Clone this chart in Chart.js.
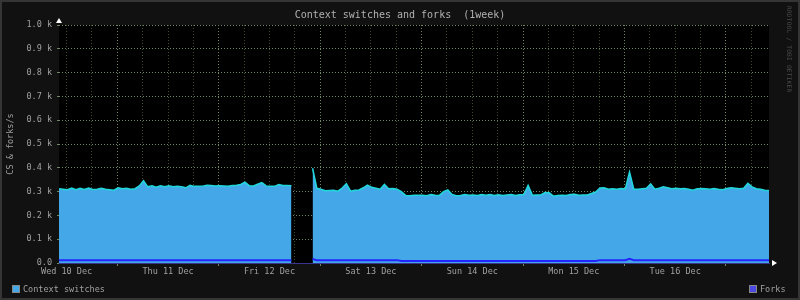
<!DOCTYPE html>
<html>
<head>
<meta charset="utf-8">
<script src="https://cdn.jsdelivr.net/npm/chart.js@4/dist/chart.umd.min.js"></script>
<style>
    html, body { margin: 0; padding: 0; background: #111; }
    #wrap { position: relative; width: 800px; height: 300px; background: #111; overflow: hidden; }
    #wrap canvas { position: absolute; left: 0; top: 0; }
    .txt { position: absolute; font-family: "DejaVu Sans Mono", monospace; white-space: pre; color: #a0a0a0; }
    #title { left: 0; top: 9px; width: 800px; text-align: center; font-size: 10px; color: #b0b0b0; }
    .leg { top: 283px; font-size: 8.5px; line-height: 12px; }
    .sw { display: inline-block; width: 6px; height: 6px; border: 1px solid #888; vertical-align: -1px; margin-right: 3px; }
    #credit { left: 786px; top: 6px; font-size: 6.2px; color: #4a4a4a; writing-mode: vertical-rl; letter-spacing: 0.2px; }
    #frame { position: absolute; left: 0; top: 0; width: 800px; height: 300px; box-sizing: border-box; border: 2px solid #353535; pointer-events: none; }
</style>
</head>
<body>
<div id="wrap">
    <canvas id="chart" width="800" height="300"></canvas>
    <div class="txt" id="title">Context switches and forks  (1week)</div>
    <div class="txt leg" style="left:12px"><span class="sw" style="background:#44a8e8"></span>Context switches</div>
    <div class="txt leg" style="left:749px"><span class="sw" style="background:#4a4ae0"></span>Forks</div>
    <div class="txt" id="credit">RRDTOOL / TOBI OETIKER</div>
    <div id="frame"></div>
</div>
<script>
// hours since the left edge of the graph (one sample per hour)
const hours = Array.from({ length: 169 }, (_, i) => i);

const contextSwitches = [
    312, 310, 308, 315, 308, 314, 309, 315, 309, 310,
    314, 310, 308, 306, 316, 312, 314, 310, 312, 324,
    346, 320, 324, 318, 324, 320, 324, 320, 322, 320,
    316, 326, 322, 322, 323, 327, 326, 324, 325, 324,
    323, 326, 327, 330, 340, 325, 324, 331, 338, 324,
    322, 322, 330, 326, 326, 325, null, null, null, null,
    398, 314, 310, 304, 305, 306, 302, 315, 333, 302,
    306, 307, 316, 327, 318, 314, 310, 330, 312, 313,
    310, 300, 284, 283, 285, 285, 285, 283, 288, 285,
    284, 300, 307, 288, 283, 284, 288, 285, 286, 284,
    288, 285, 288, 284, 287, 284, 286, 288, 284, 287,
    288, 326, 285, 286, 286, 296, 295, 281, 284, 285,
    284, 288, 289, 285, 286, 286, 292, 298, 315, 316,
    310, 312, 310, 313, 311, 382, 310, 310, 312, 314,
    332, 310, 314, 320, 316, 312, 314, 312, 313, 310,
    306, 312, 313, 312, 310, 313, 310, 308, 313, 316,
    314, 312, 314, 335, 320, 312, 310, 306, 305
];

const forksHours = [0, 55, 57, 60, 61, 80, 81, 127, 128, 134, 135, 136, 168];
const forks = [12, 12, null, 17, 12, 12, 8, 8, 12, 12, 18, 12, 12];

const dayLabels = ['Wed 10 Dec', 'Thu 11 Dec', 'Fri 12 Dec', 'Sat 13 Dec', 'Sun 14 Dec', 'Mon 15 Dec', 'Tue 16 Dec'];
const firstGridHour = 1.8;   // first 6-hour grid line, also the first day label
const gridHours = Array.from({ length: 28 }, (_, k) => firstGridHour + 6 * k);
const yTicks = [0, 100, 200, 300, 400, 500, 600, 700, 800, 900, 1000];

const textColor = '#a0a0a0';
const smallFont = { family: 'DejaVu Sans Mono', size: 8.5 };

const arrows = {
    id: 'arrows',
    beforeDraw(chart) {
        const { ctx, chartArea: a } = chart;
        ctx.save();
        ctx.fillStyle = '#000';
        ctx.fillRect(a.left, a.top, a.right - a.left, a.bottom - a.top);
        ctx.restore();
    },
    afterDraw(chart) {
        const { ctx, chartArea: a } = chart;
        ctx.save();
        ctx.fillStyle = '#ffffff';
        ctx.beginPath();
        ctx.moveTo(a.left, a.top - 7);
        ctx.lineTo(a.left - 3, a.top - 2);
        ctx.lineTo(a.left + 3, a.top - 2);
        ctx.closePath();
        ctx.fill();
        ctx.beginPath();
        ctx.moveTo(a.right + 8, a.bottom);
        ctx.lineTo(a.right + 3, a.bottom - 3);
        ctx.lineTo(a.right + 3, a.bottom + 3);
        ctx.closePath();
        ctx.fill();
        ctx.restore();
    }
};

new Chart(document.getElementById('chart'), {
    type: 'line',
    data: {
        datasets: [{
            label: 'Forks',
            data: forksHours.map((h, i) => ({ x: h, y: forks[i] })),
            borderColor: '#2424ff',
            borderWidth: 2,
            pointRadius: 0,
            fill: false,
            spanGaps: false,
            tension: 0
        }, {
            label: 'Context switches',
            data: hours.map((h, i) => ({ x: h, y: contextSwitches[i] })),
            borderColor: '#20d8dc',
            backgroundColor: '#44a8e8',
            borderWidth: 1.5,
            pointRadius: 0,
            fill: 'origin',
            spanGaps: false,
            tension: 0
        }]
    },
    options: {
        responsive: false,
        animation: false,
        layout: { padding: { left: 0, top: 25, right: 31, bottom: 0 } },
        plugins: {
            legend: { display: false },
            title: { display: false },
            tooltip: { enabled: false }
        },
        scales: {
            x: {
                type: 'linear',
                min: 0,
                max: 168,
                z: 1,
                afterBuildTicks: s => { s.ticks = gridHours.map(v => ({ value: v })); },
                afterFit: s => { s.height = 37; },
                ticks: {
                    autoSkip: false,
                    maxRotation: 0,
                    padding: 1,
                    color: textColor,
                    font: smallFont,
                    callback: (v, i) => (i % 4 === 0 ? dayLabels[i / 4] : '')
                },
                grid: {
                    color: c => (c.index % 4 === 2 ? '#6e8461' : '#3e4b2c'),
                    tickColor: c => (c.index % 4 === 2 ? '#6e8461' : 'rgba(0,0,0,0)'),
                    tickLength: 3
                },
                border: { display: true, color: '#3a3490', width: 1, dash: [1, 2] }
            },
            y: {
                min: 0,
                max: 1000,
                z: 1,
                afterBuildTicks: s => { s.ticks = yTicks.map(v => ({ value: v })); },
                afterFit: s => { s.width = 59; },
                ticks: {
                    padding: 5,
                    color: textColor,
                    font: smallFont,
                    callback: v => (v === 0 ? '0.0' : (v / 1000).toFixed(1) + ' k')
                },
                grid: { color: '#6e8a62', tickColor: '#6e8a62', tickLength: 2 },
                border: { display: false, dash: [1, 2] },
                title: {
                    display: true,
                    text: 'CS & forks/s',
                    color: textColor,
                    font: smallFont,
                    padding: { top: 6, bottom: 0 }
                }
            }
        }
    },
    plugins: [arrows]
});
</script>
</body>
</html>
